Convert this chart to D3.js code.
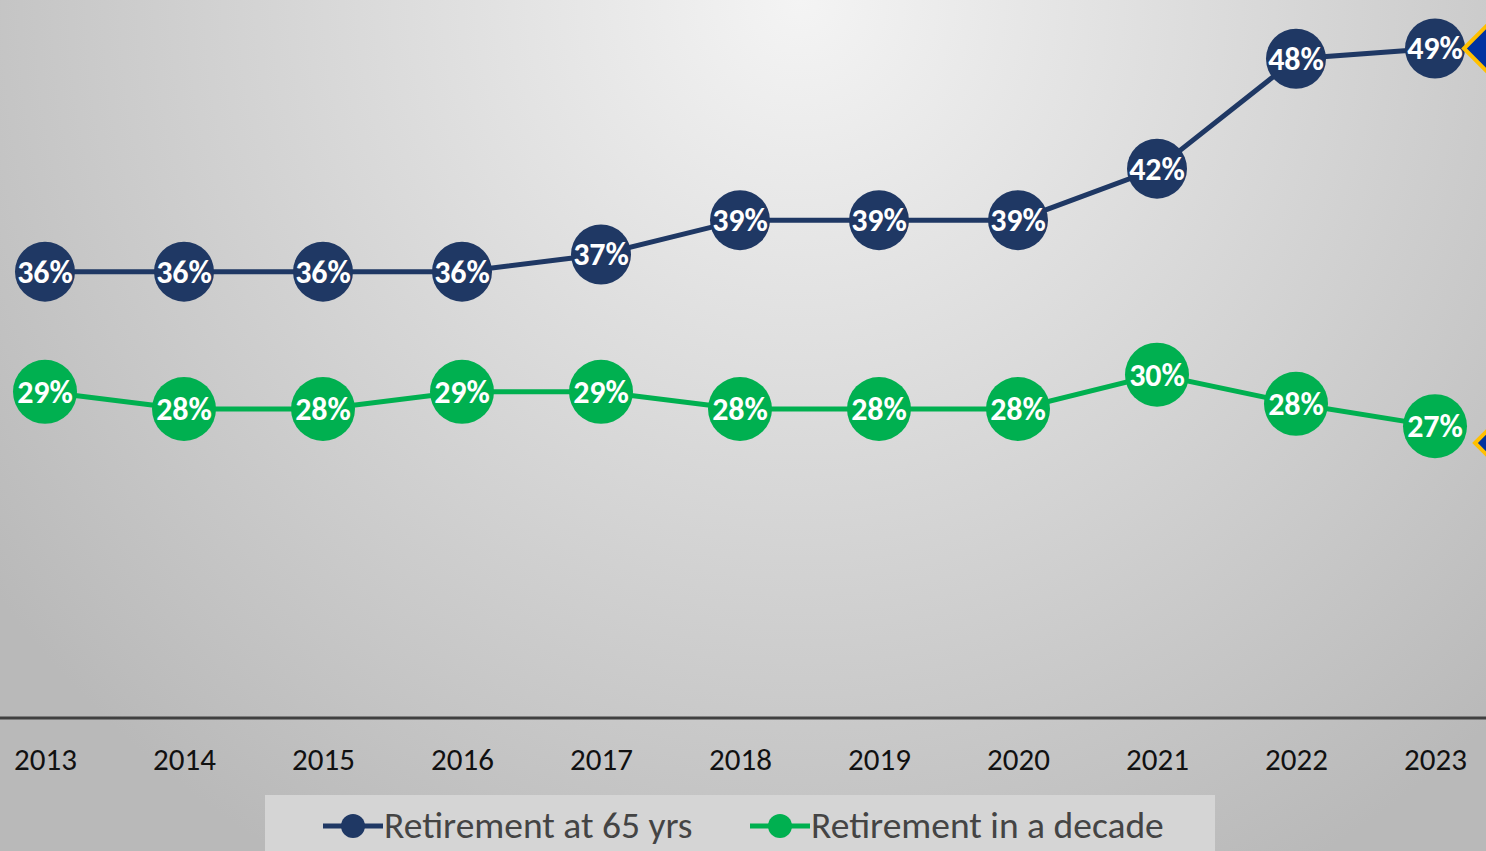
<!DOCTYPE html>
<html>
<head>
<meta charset="utf-8">
<script src="https://cdn.jsdelivr.net/npm/d3@7"></script>
<style>
	body { margin: 0; overflow: hidden; }
	svg { display: block; }
</style>
</head>
<body>
<svg id="chart"></svg>
<script>
let years = ['2013', '2014', '2015', '2016', '2017', '2018', '2019', '2020', '2021', '2022', '2023'];
let at65 = [36, 36, 36, 36, 37, 39, 39, 39, 42, 48.4, 49];
let inDecade = [29, 28, 28, 29, 29, 28, 28, 28, 30, 28.3, 27];
let seriesNames = ['Retirement at 65 yrs', 'Retirement in a decade'];
let seriesColors = ['#1f3864', '#00b050'];

function makeChart() {
	let w = 1486;
	let h = 851;
	let font = "Carlito, Calibri, 'Liberation Sans Narrow', 'Open Sans', sans-serif";

	let chart = d3.select('#chart')
		.attr('width', w)
		.attr('height', h);

	// background gradient
	let defs = chart.append('defs');
	let grad = defs.append('radialGradient')
		.attr('id', 'bg')
		.attr('gradientUnits', 'userSpaceOnUse')
		.attr('cx', 800).attr('cy', 0).attr('r', 1000);
	grad.append('stop').attr('offset', '0%').attr('stop-color', '#f4f4f4');
	grad.append('stop').attr('offset', '100%').attr('stop-color', '#b9b9b9');

	chart.append('rect')
		.attr('width', w).attr('height', h)
		.attr('fill', 'url(#bg)');

	let x = d3.scalePoint()
		.domain(years)
		.range([45, 1435]);

	let y = d3.scaleLinear()
		.domain([10, 50])
		.range([718, 31.3]);

	// x axis
	let xAxis = chart.append('g')
		.attr('transform', 'translate(0,718)')
		.call(d3.axisBottom(x).tickSize(0).tickPadding(30));
	xAxis.select('.domain').remove();
	xAxis.append('line')
		.attr('x1', 0).attr('x2', w)
		.attr('stroke', '#404040').attr('stroke-width', 3);
	xAxis.selectAll('text')
		.attr('font-family', font)
		.attr('font-size', 31)
		.attr('fill', '#111');

	let series = [at65, inDecade];
	let radius = [30, 32];

	let line = d3.line()
		.x((d, i) => x(years[i]))
		.y(d => y(d));

	series.forEach((vals, s) => {
		let g = chart.append('g');
		g.append('path')
			.datum(vals)
			.attr('d', line)
			.attr('fill', 'none')
			.attr('stroke', seriesColors[s])
			.attr('stroke-width', 5);

		let pt = g.selectAll('g.pt')
			.data(vals)
			.enter()
			.append('g')
			.attr('transform', (d, i) => `translate(${x(years[i])},${y(d)})`);
		pt.append('circle')
			.attr('r', radius[s])
			.attr('fill', seriesColors[s]);
		pt.append('text')
			.text(d => Math.round(d) + '%')
			.attr('text-anchor', 'middle')
			.attr('dy', 11)
			.attr('font-family', font)
			.attr('font-weight', 'bold')
			.attr('font-size', 32)
			.attr('fill', '#fff');
	});

	// decorative diamonds on the right edge
	let diamonds = [[1464, y(49), 34], [1475, 443, 14]];
	chart.selectAll('polygon.dia')
		.data(diamonds)
		.enter()
		.append('polygon')
		.attr('points', d => `${d[0]},${d[1]} ${d[0] + d[2]},${d[1] - d[2]} ${d[0] + 2 * d[2]},${d[1]} ${d[0] + d[2]},${d[1] + d[2]}`)
		.attr('fill', '#0033a0')
		.attr('stroke', '#ffc000')
		.attr('stroke-width', 4);

	// legend
	let legend = chart.append('g');
	legend.append('rect')
		.attr('x', 265).attr('y', 795)
		.attr('width', 950).attr('height', 60)
		.attr('fill', '#d5d5d5');

	let legX = [323, 750];
	seriesNames.forEach((name, s) => {
		let lg = legend.append('g').attr('transform', `translate(${legX[s]},826)`);
		lg.append('line')
			.attr('x1', 0).attr('x2', 60)
			.attr('stroke', seriesColors[s]).attr('stroke-width', 5);
		lg.append('circle')
			.attr('cx', 30).attr('r', 12)
			.attr('fill', seriesColors[s]);
		lg.append('text')
			.attr('x', 61).attr('dy', 12)
			.attr('font-family', font)
			.attr('font-size', 37.5)
			.attr('fill', '#444')
			.text(name);
	});
}

window.onload = function () {
	makeChart();
}
</script>
</body>
</html>
